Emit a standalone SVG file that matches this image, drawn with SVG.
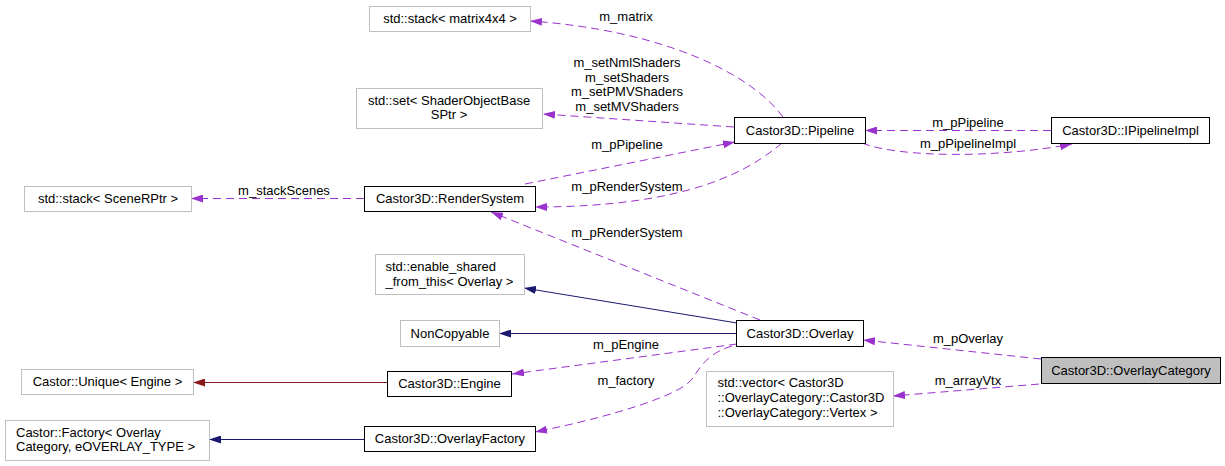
<svg xmlns="http://www.w3.org/2000/svg" width="1225" height="466" viewBox="0 0 1225 466">
<style>
text{font-family:"Liberation Sans",Arial,sans-serif;font-size:13px;fill:#000}
.c{text-anchor:middle}
.ext{fill:#fff;stroke:#bfbfbf;stroke-width:1}
.doc{fill:#fff;stroke:#000;stroke-width:1}
.cur{fill:#bfbfbf;stroke:#000;stroke-width:1}
.u{fill:none;stroke:#9a32cd;stroke-width:1;stroke-dasharray:8,5;marker-end:url(#ap)}
.i{fill:none;stroke:#191970;stroke-width:1;marker-end:url(#an)}
.r{fill:none;stroke:#8b1a1a;stroke-width:1;marker-end:url(#ar)}
</style>
<defs>
<marker id="ap" viewBox="0 0 12 8" refX="12" refY="4" markerWidth="12" markerHeight="8" markerUnits="userSpaceOnUse" orient="auto"><path d="M0,0 L12,4 L0,8 z" fill="#9a32cd"/></marker>
<marker id="an" viewBox="0 0 12 8" refX="12" refY="4" markerWidth="12" markerHeight="8" markerUnits="userSpaceOnUse" orient="auto"><path d="M0,0 L12,4 L0,8 z" fill="#191970"/></marker>
<marker id="ar" viewBox="0 0 12 8" refX="12" refY="4" markerWidth="12" markerHeight="8" markerUnits="userSpaceOnUse" orient="auto"><path d="M0,0 L12,4 L0,8 z" fill="#8b1a1a"/></marker>
</defs>
<rect width="1225" height="466" fill="#fff"/>
<g id="edges">
<path class="u" d="M783,117 C750,72 660,30 530,21"/>
<text class="c" x="626" y="20.5">m_matrix</text>
<path class="u" d="M734,127 L543,114"/>
<text class="c" x="627" y="67">m_setNmlShaders</text>
<text class="c" x="627" y="81.5">m_setShaders</text>
<text class="c" x="627" y="96">m_setPMVShaders</text>
<text class="c" x="627" y="111">m_setMVShaders</text>
<path class="u" d="M525,184 L735,142"/>
<text class="c" x="627" y="149">m_pPipeline</text>
<path class="u" d="M782,143 C750,170 690,207 535,207"/>
<text class="c" x="627" y="191">m_pRenderSystem</text>
<path class="u" d="M364,198.5 L191,198.5"/>
<text class="c" x="284" y="195">m_stackScenes</text>
<path class="u" d="M1051,130.5 L865,130.5"/>
<text class="c" x="968" y="127">m_pPipeline</text>
<path class="u" d="M862,143 C900,158 1000,158 1072,144"/>
<text class="c" x="968" y="148">m_pPipelineImpl</text>
<path class="u" d="M760,320 L491,212"/>
<text class="c" x="627" y="237">m_pRenderSystem</text>
<path class="i" d="M737,323 L524,288"/>
<path class="i" d="M737,333.5 L499,333.5"/>
<path class="u" d="M737,344 L512,374"/>
<text class="c" x="626" y="349">m_pEngine</text>
<path class="r" d="M387,382.5 L193,382.5"/>
<path class="i" d="M364,439.5 L209,439.5"/>
<path class="u" d="M732,346 C700,356 698,375 688,383 C675,395 620,415 535,432"/>
<text class="c" x="626" y="384.5">m_factory</text>
<path class="u" d="M1041,359 L863,340"/>
<text class="c" x="968" y="343">m_pOverlay</text>
<path class="u" d="M1052,383 L893,396"/>
<text class="c" x="968" y="384.5">m_arrayVtx</text>
</g>
<g id="n_matrix"><rect class="ext" x="369.5" y="6.5" width="161" height="25"/><text class="c" x="450" y="23">std::stack&lt; matrix4x4 &gt;</text></g>
<g id="n_set"><rect class="ext" x="356.5" y="88.5" width="186" height="40"/><text class="c" x="449" y="104.5">std::set&lt; ShaderObjectBase</text><text class="c" x="449" y="119">SPtr &gt;</text></g>
<g id="n_scenes"><rect class="ext" x="24.5" y="186.5" width="167" height="25"/><text class="c" x="108" y="203">std::stack&lt; SceneRPtr &gt;</text></g>
<g id="n_rendersystem"><rect class="doc" x="364.5" y="186.5" width="171" height="25"/><text class="c" x="450" y="203">Castor3D::RenderSystem</text></g>
<g id="n_pipeline"><rect class="doc" x="734.5" y="117.5" width="131" height="26"/><text class="c" x="800" y="134.5">Castor3D::Pipeline</text></g>
<g id="n_ipipelineimpl"><rect class="doc" x="1051.5" y="117.5" width="158" height="26"/><text class="c" x="1130.5" y="134.5">Castor3D::IPipelineImpl</text></g>
<g id="n_shared"><rect class="ext" x="375.5" y="254.5" width="149" height="40"/><text x="385.5" y="271">std::enable_shared</text><text x="385.5" y="285.5">_from_this&lt; Overlay &gt;</text></g>
<g id="n_noncopyable"><rect class="ext" x="400.5" y="320.5" width="99" height="26"/><text class="c" x="450" y="337.5">NonCopyable</text></g>
<g id="n_unique"><rect class="ext" x="21.5" y="369.5" width="172" height="25"/><text class="c" x="107.5" y="386">Castor::Unique&lt; Engine &gt;</text></g>
<g id="n_engine"><rect class="doc" x="387.5" y="371.5" width="124" height="25"/><text class="c" x="449.5" y="388">Castor3D::Engine</text></g>
<g id="n_factory"><rect class="ext" x="5.5" y="420.5" width="204" height="40"/><text x="16" y="436.5">Castor::Factory&lt; Overlay</text><text x="16" y="451">Category, eOVERLAY_TYPE &gt;</text></g>
<g id="n_overlayfactory"><rect class="doc" x="364.5" y="426.5" width="171" height="25"/><text class="c" x="450" y="443">Castor3D::OverlayFactory</text></g>
<g id="n_overlay"><rect class="doc" x="736.5" y="320.5" width="127" height="26"/><text class="c" x="800" y="337.5">Castor3D::Overlay</text></g>
<g id="n_overlaycategory"><rect class="cur" x="1041.5" y="357.5" width="179" height="26"/><text class="c" x="1131" y="375">Castor3D::OverlayCategory</text></g>
<g id="n_vector"><rect class="ext" x="706.5" y="371.5" width="187" height="55"/><text x="717.5" y="387">std::vector&lt; Castor3D</text><text x="717.5" y="402">::OverlayCategory::Castor3D</text><text x="717.5" y="417">::OverlayCategory::Vertex &gt;</text></g>
</svg>
